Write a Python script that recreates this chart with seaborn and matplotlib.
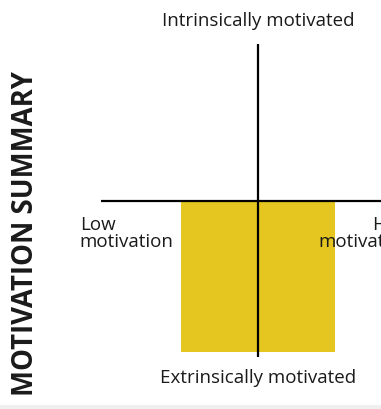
import numpy as np
import matplotlib
matplotlib.use("Agg")
import matplotlib.pyplot as plt
import seaborn as sns
from matplotlib.patches import Rectangle

# quadrant axes: x = motivation level, y = intrinsic (+) vs extrinsic (-)
motivation_range = [-0.49, 0.49]
orientation_range = [-0.97, 0.0]

top_label = "Intrinsically motivated"
bottom_label = "Extrinsically motivated"
left_label = "Low\nmotivation"
right_label = "High\nmotivation"
side_title = "MOTIVATION SUMMARY"

fill_color = "#e5c620"
text_color = "#1a1a1a"

sns.set_style("white")
plt.rcParams["font.family"] = ["Open Sans", "DejaVu Sans"]

fig = plt.figure(figsize=(3.81, 4.09), dpi=100)
fig.patch.set_facecolor("white")
# thin grey strip along the bottom edge
fig.add_artist(Rectangle((0, 0), 1, 4 / 409, transform=fig.transFigure,
                         facecolor="#efefef", edgecolor="none"))

# axes run past the right edge, so the chart is cut off like the original
ax = fig.add_axes([101 / 381, 52 / 409, 314 / 381, 313 / 409])

x_mid = np.mean(motivation_range)
bar_w = motivation_range[1] - motivation_range[0]
sns.barplot(x=[x_mid], y=[orientation_range[0]], width=bar_w,
            native_scale=True, color=fill_color, saturation=1,
            edgecolor="none", ax=ax, zorder=1)

ax.axhline(0, color="black", lw=1.6, zorder=3)
ax.axvline(0, color="black", lw=1.6, zorder=3)
ax.set_xlim(-1, 1)
ax.set_ylim(-1, 1)
ax.set_axis_off()

fs = 13.5
ax.text(0, 1.115, top_label, ha="center", va="baseline",
        fontsize=fs, color=text_color, clip_on=False)
ax.text(0, -1.166, bottom_label, ha="center", va="baseline",
        fontsize=fs, color=text_color, clip_on=False)
ax.text(-1.136, -0.297, left_label, ha="left", va="baseline",
        fontsize=fs, color=text_color, linespacing=0.92, clip_on=False,
        zorder=4)
ax.text(0.985, -0.297, right_label, ha="right", va="baseline",
        multialignment="right", fontsize=fs, color=text_color,
        linespacing=0.92, clip_on=False, zorder=4)

fig.text(26 / 381, (409 - 233) / 409, side_title, rotation=90,
         ha="center", va="center", fontsize=19.8, fontweight="bold",
         color=text_color)

fig.savefig("out.png", dpi=100, facecolor="white")
